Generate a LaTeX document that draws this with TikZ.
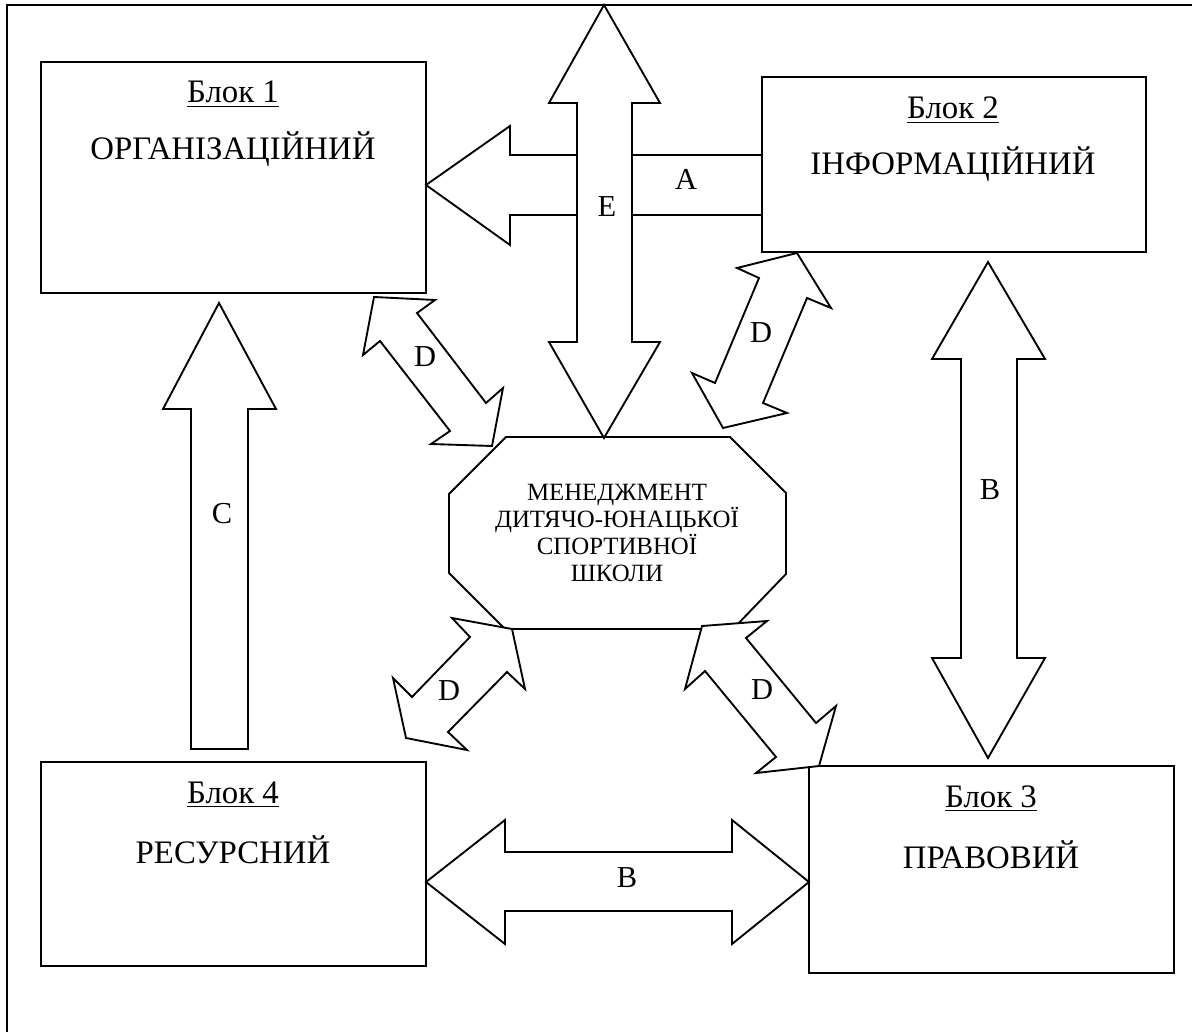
\documentclass[tikz,border=0pt]{standalone}
\usepackage{fontspec}
\setmainfont{Liberation Serif}

\tikzset{
  blok/.style={draw, line width=0.9pt, inner sep=0pt},
  strilka/.style={draw, fill=white, line width=0.8pt, line join=miter},
  napys/.style={font=\fontsize{14}{16}\selectfont, anchor=base, inner sep=0pt},
  bukva/.style={font=\fontsize{13}{15}\selectfont, inner sep=0pt},
}

\begin{document}
\begin{tikzpicture}[x=0.015cm, y=-0.015cm]
\useasboundingbox (0,0) rectangle (1192,1032);
% frame
\draw[line width=0.8pt] (1192,5) -- (7,5) -- (7,1032);

% blocks
\node[blok, minimum width=5.775cm, minimum height=3.465cm] (b1) at (233.5,177.5) {};
\node[blok, minimum width=5.76cm,  minimum height=2.625cm] (b2) at (954,164.5) {};
\node[blok, minimum width=5.475cm, minimum height=3.105cm] (b3) at (991.5,869.5) {};
\node[blok, minimum width=5.775cm, minimum height=3.06cm]  (b4) at (233.5,864) {};

\node[napys] (b1t) at (233,103) {\underline{Блок 1}};
\node[napys] (b1n) at (233,160) {ОРГАНІЗАЦІЙНИЙ};
\node[napys] (b2t) at (953,119) {\underline{Блок 2}};
\node[napys] (b2n) at (953,175) {ІНФОРМАЦІЙНИЙ};
\node[napys] (b3t) at (991,807) {\underline{Блок 3}};
\node[napys] (b3n) at (991,868) {ПРАВОВИЙ};
\node[napys] (b4t) at (233,803) {\underline{Блок 4}};
\node[napys] (b4n) at (233,863) {РЕСУРСНИЙ};

% centre
\draw[line width=0.8pt] (506,437) -- (730,437) -- (786,493) -- (786,574)
  -- (733,629) -- (505,629) -- (449,573) -- (449,494) -- cycle;
\node[align=center, inner sep=0pt, font=\fontsize{10.6}{11.65}\selectfont]
  (mgmt) at (617,533) {МЕНЕДЖМЕНТ\\ДИТЯЧО-ЮНАЦЬКОЇ\\СПОРТИВНОЇ\\ШКОЛИ};

% A and E
\draw[strilka] (426,185) -- (510,126) -- (510,155) -- (762,155) -- (762,215)
  -- (510,215) -- (510,245) -- cycle;
\draw[strilka] (604,5) -- (660,103) -- (632,103) -- (632,342) -- (660,342)
  -- (604,438) -- (549,342) -- (577,342) -- (577,103) -- (549,103) -- cycle;

% C
\draw[strilka] (219,303) -- (276,409) -- (248,409) -- (248,749) -- (191,749)
  -- (191,409) -- (163,409) -- cycle;

% B
\draw[strilka] (988,262) -- (1045,359) -- (1017,359) -- (1017,658) -- (1045,658)
  -- (988,758) -- (932,658) -- (961,658) -- (961,359) -- (932,359) -- cycle;
\draw[strilka] (426,882) -- (505,820) -- (505,852) -- (732,852) -- (732,820)
  -- (809,882) -- (732,944) -- (732,911) -- (505,911) -- (505,944) -- cycle;

% D
\draw[strilka] (374,297) -- (435,300) -- (417,313) -- (486,403) -- (503,388)
  -- (492,446) -- (431,444) -- (450,431) -- (380,341) -- (363,355) -- cycle;
\draw[strilka] (797,253) -- (831,308) -- (807,298) -- (763,403) -- (787,413)
  -- (723,428) -- (692,373) -- (715,383) -- (759,278) -- (737,268) -- cycle;
\draw[strilka] (512,629) -- (525,689) -- (507,672) -- (448,732) -- (467,750)
  -- (406,738) -- (393,678) -- (412,697) -- (470,637) -- (452,618) -- cycle;
\draw[strilka] (702,626) -- (767,621) -- (746,638) -- (816,723) -- (836,706)
  -- (819,766) -- (756,773) -- (776,757) -- (705,671) -- (685,689) -- cycle;

% letters
\node[bukva] (la)  at (686,179) {A};
\node[bukva] (le)  at (607,207) {E};
\node[bukva] (lc)  at (222,514) {C};
\node[bukva] (lb1) at (990,490) {B};
\node[bukva] (lb2) at (627,878) {B};
\node[bukva] (ld1) at (425,357) {D};
\node[bukva] (ld2) at (761,333) {D};
\node[bukva] (ld3) at (449,691) {D};
\node[bukva] (ld4) at (762,690) {D};
\end{tikzpicture}
\end{document}
